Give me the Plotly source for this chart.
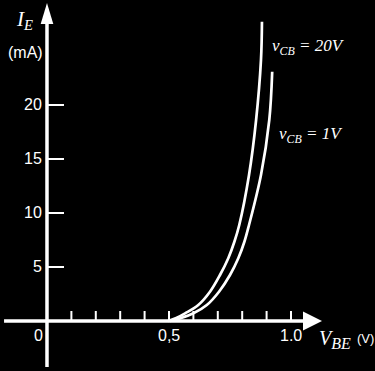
import plotly.graph_objects as go

# ---- data ----
v_be_20 = [0.497, 0.530, 0.566, 0.620, 0.668, 0.709, 0.743, 0.768, 0.788, 0.828, 0.857, 0.877, 0.881]
ie_20 = [0.0, 0.28, 0.71, 1.48, 2.71, 4.26, 5.81, 7.34, 8.89, 13.52, 18.61, 24.17, 27.71]
v_be_1 = [0.504, 0.550, 0.600, 0.655, 0.705, 0.750, 0.784, 0.809, 0.828, 0.877, 0.911, 0.923]
ie_1 = [0.0, 0.28, 0.71, 1.48, 2.71, 4.26, 5.81, 7.34, 8.89, 13.52, 18.61, 23.08]

x_tick_vals = [0.1, 0.2, 0.3, 0.4, 0.5, 0.6, 0.7, 0.8, 0.9, 1.0]
x_label_vals = [0.5, 1.0]
x_label_text = ["0,5", "1.0"]
y_tick_vals = [5, 10, 15, 20]
y_label_text = ["5", "10", "15", "20"]

# axis extents (data units)
X_RANGE = [-0.1926, 1.3443]
Y_RANGE = [-4.63, 29.72]
X_AXIS_START, X_AXIS_TIP = -0.176, 1.127
Y_AXIS_START, Y_AXIS_TIP = -4.26, 29.44

W = "white"
fig = go.Figure()
for xs, ys in [(v_be_20, ie_20), (v_be_1, ie_1)]:
    fig.add_trace(go.Scatter(x=xs, y=ys, mode="lines",
                             line=dict(color=W, width=2.7, shape="spline", smoothing=1.0),
                             hoverinfo="skip", showlegend=False))

shapes = []
# axis lines
shapes.append(dict(type="line", xref="x", yref="y", x0=X_AXIS_START, x1=X_AXIS_TIP - 0.06,
                   y0=0, y1=0, line=dict(color=W, width=3.5)))
shapes.append(dict(type="line", xref="x", yref="y", x0=0, x1=0,
                   y0=Y_AXIS_START, y1=Y_AXIS_TIP - 1.5, line=dict(color=W, width=3.5)))
# arrowheads (pixel-sized, anchored at tips)
shapes.append(dict(type="path", xref="x", yref="y", xsizemode="pixel", ysizemode="pixel",
                   xanchor=X_AXIS_TIP, yanchor=0, path="M 0 0 L -19 9.5 L -19 -9.5 Z",
                   fillcolor=W, line=dict(color=W, width=0)))
shapes.append(dict(type="path", xref="x", yref="y", xsizemode="pixel", ysizemode="pixel",
                   xanchor=0, yanchor=Y_AXIS_TIP, path="M 0 0 L -6.3 -21 L 6.3 -21 Z",
                   fillcolor=W, line=dict(color=W, width=0)))
# ticks
for v in x_tick_vals:
    shapes.append(dict(type="line", xref="x", yref="y", ysizemode="pixel", yanchor=0,
                       x0=v, x1=v, y0=0, y1=10, line=dict(color=W, width=2)))
for v in y_tick_vals:
    shapes.append(dict(type="line", xref="x", yref="y", xsizemode="pixel", xanchor=0,
                       x0=0, x1=17, y0=v, y1=v, line=dict(color=W, width=2)))

sans = "Liberation Sans, Arial, sans-serif"
serif = "Liberation Serif, Times New Roman, serif"
ann = []
for v, t in zip(y_tick_vals, y_label_text):
    ann.append(dict(x=0, y=v, xref="x", yref="y", text=t, showarrow=False,
                    xanchor="right", yanchor="middle", xshift=-3,
                    font=dict(family=sans, size=16, color=W)))
for v, t in zip(x_label_vals, x_label_text):
    ann.append(dict(x=v, y=0, xref="x", yref="y", text=t, showarrow=False,
                    xanchor="center", yanchor="middle", yshift=-15,
                    font=dict(family=sans, size=16, color=W)))
ann.append(dict(x=0, y=0, xref="x", yref="y", text="0", showarrow=False,
                xanchor="center", yanchor="middle", xshift=-8, yshift=-15,
                font=dict(family=sans, size=16, color=W)))
ann.append(dict(x=-0.135, y=27.9, xref="x", yref="y",
                text="<i>I</i><sub><i>E</i></sub>",
                showarrow=False, xanchor="left", yanchor="middle",
                font=dict(family=serif, size=21, color=W)))
ann.append(dict(x=-0.088, y=24.9, xref="x", yref="y", text="(mA)", showarrow=False,
                xanchor="center", yanchor="middle",
                font=dict(family=sans, size=16, color=W)))
ann.append(dict(x=1.107, y=-1.75, xref="x", yref="y",
                text="<i>V</i><sub><i><span style='font-size:16px'>BE</span></i></sub>",
                showarrow=False, xanchor="left", yanchor="middle",
                font=dict(family=serif, size=20, color=W)))
ann.append(dict(x=1.262, y=-1.6, xref="x", yref="y", text="(V)", showarrow=False,
                xanchor="left", yanchor="middle",
                font=dict(family=sans, size=13, color=W)))
ann.append(dict(x=0.914, y=25.4, xref="x", yref="y",
                text="<i>v</i><sub><i>CB</i></sub><i> = 20V</i>", showarrow=False,
                xanchor="left", yanchor="middle",
                font=dict(family=serif, size=17, color=W)))
ann.append(dict(x=0.943, y=17.2, xref="x", yref="y",
                text="<i>v</i><sub><i>CB</i></sub><i> = 1V</i>", showarrow=False,
                xanchor="left", yanchor="middle",
                font=dict(family=serif, size=17, color=W)))

fig.update_layout(width=375, height=371, margin=dict(l=0, r=0, t=0, b=0),
                  paper_bgcolor="black", plot_bgcolor="black",
                  xaxis=dict(range=X_RANGE, visible=False, fixedrange=True),
                  yaxis=dict(range=Y_RANGE, visible=False, fixedrange=True),
                  shapes=shapes, annotations=ann, showlegend=False)
fig.write_html("out.html", config={"displayModeBar": False},
               post_script="document.body.style.margin='0';document.body.style.overflow='hidden';")
